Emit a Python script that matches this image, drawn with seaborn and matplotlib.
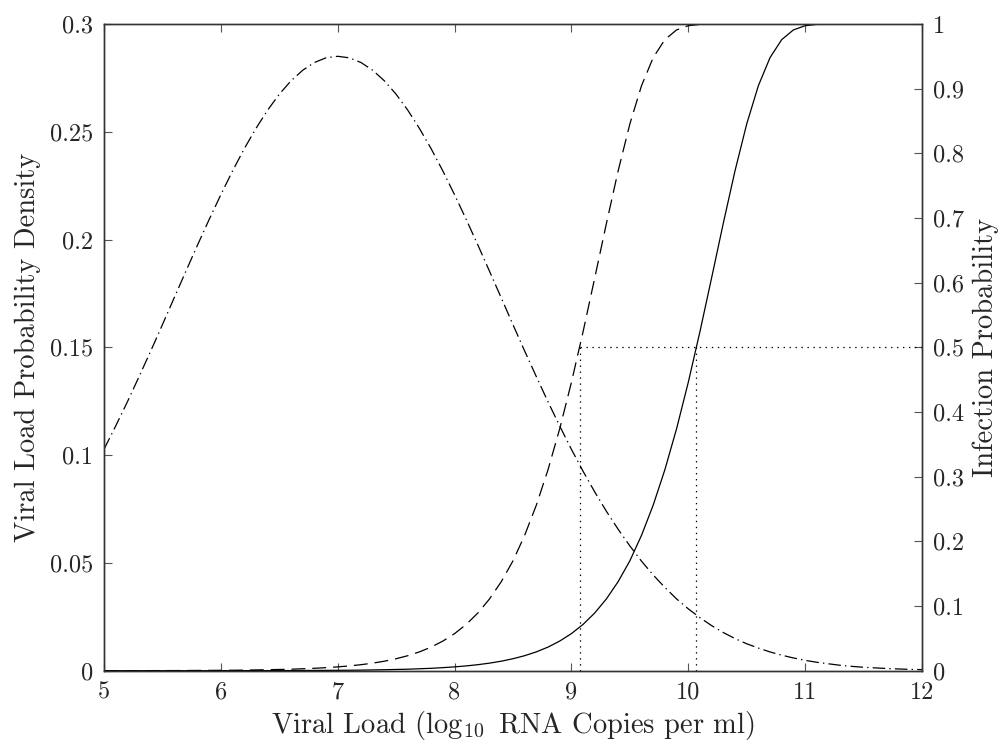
import numpy as np
import matplotlib
matplotlib.use("Agg")
import matplotlib.pyplot as plt
import seaborn as sns

# viral load grid (log10 copies per ml), read every 0.1
x_load = np.round(np.linspace(5, 12, 71), 1)

# viral load probability density (left axis), dash-dot curve
density = [0.1027, 0.1135, 0.1247, 0.1364, 0.1483, 0.1605, 0.1729, 0.1852, 0.1974, 0.2093,
           0.2208, 0.2318, 0.2421, 0.2515, 0.2600, 0.2674, 0.2736, 0.2785, 0.2821, 0.2843,
           0.2850, 0.2843, 0.2821, 0.2785, 0.2736, 0.2674, 0.2600, 0.2515, 0.2421, 0.2318,
           0.2208, 0.2093, 0.1974, 0.1852, 0.1729, 0.1605, 0.1483, 0.1364, 0.1247, 0.1135,
           0.1027, 0.0925, 0.0829, 0.0739, 0.0656, 0.0579, 0.0508, 0.0444, 0.0386, 0.0333,
           0.0287, 0.0246, 0.0209, 0.0177, 0.0149, 0.0125, 0.0105, 0.0087, 0.0072, 0.0059,
           0.0048, 0.0039, 0.0032, 0.0025, 0.0020, 0.0016, 0.0013, 0.0010, 0.0008, 0.0006,
           0.0005]

# infection probability (right axis), dashed curve
infect_dashed = [0.0001, 0.0001, 0.0001, 0.0001, 0.0001, 0.0002, 0.0002, 0.0003, 0.0004, 0.0005,
                 0.0006, 0.0007, 0.0009, 0.0012, 0.0015, 0.0019, 0.0023, 0.0030, 0.0037, 0.0047,
                 0.0059, 0.0074, 0.0093, 0.0117, 0.0147, 0.0185, 0.0232, 0.0291, 0.0365, 0.0458,
                 0.0573, 0.0716, 0.0893, 0.1111, 0.1377, 0.1698, 0.2093, 0.2560, 0.3108, 0.3741,
                 0.4457, 0.5242, 0.6075, 0.6919, 0.7728, 0.8452, 0.9045, 0.9480, 0.9758, 0.9908,
                 0.9973, 0.9994, 0.9999, 1.0, 1.0, 1.0, 1.0, 1.0, 1.0, 1.0,
                 1.0, 1.0, 1.0, 1.0, 1.0, 1.0, 1.0, 1.0, 1.0, 1.0,
                 1.0]

# infection probability (right axis), solid curve
infect_solid = [0.0, 0.0, 0.0, 0.0, 0.0, 0.0, 0.0, 0.0, 0.0, 0.0,
                0.0001, 0.0001, 0.0001, 0.0001, 0.0001, 0.0002, 0.0002, 0.0003, 0.0004, 0.0005,
                0.0006, 0.0007, 0.0009, 0.0012, 0.0015, 0.0019, 0.0023, 0.0030, 0.0037, 0.0047,
                0.0059, 0.0074, 0.0093, 0.0117, 0.0147, 0.0185, 0.0232, 0.0291, 0.0365, 0.0458,
                0.0573, 0.0716, 0.0893, 0.1111, 0.1377, 0.1698, 0.2093, 0.2560, 0.3108, 0.3741,
                0.4457, 0.5242, 0.6075, 0.6919, 0.7728, 0.8452, 0.9045, 0.9480, 0.9758, 0.9908,
                0.9973, 0.9994, 0.9999, 1.0, 1.0, 1.0, 1.0, 1.0, 1.0, 1.0,
                1.0]

# 50% infection thresholds
half_prob = 0.5
half_x = [9.07, 10.07]

x_ticks = [5, 6, 7, 8, 9, 10, 11, 12]
left_ticks = [0, 0.05, 0.1, 0.15, 0.2, 0.25, 0.3]
left_labels = ["0", "0.05", "0.1", "0.15", "0.2", "0.25", "0.3"]
right_ticks = [0, 0.1, 0.2, 0.3, 0.4, 0.5, 0.6, 0.7, 0.8, 0.9, 1]
right_labels = ["0", "0.1", "0.2", "0.3", "0.4", "0.5", "0.6", "0.7", "0.8", "0.9", "1"]

sns.set_style("ticks")
plt.rcParams["font.family"] = "serif"
plt.rcParams["font.serif"] = ["cmr10", "DejaVu Serif"]
plt.rcParams["mathtext.fontset"] = "cm"
plt.rcParams["axes.unicode_minus"] = False
plt.rcParams["lines.scale_dashes"] = False

fig = plt.figure(figsize=(9.98, 7.42), dpi=100)
ax = fig.add_axes([0.1042, 0.0961, 0.8196, 0.8716])
ax2 = ax.twinx()

lw = 0.9
sns.lineplot(x=x_load, y=density, ax=ax, color="black", linewidth=lw,
             linestyle=(0, (9, 3, 1, 3)))
sns.lineplot(x=x_load, y=infect_dashed, ax=ax2, color="black", linewidth=lw,
             linestyle=(0, (10, 5)))
sns.lineplot(x=x_load, y=infect_solid, ax=ax2, color="black", linewidth=lw)
ax2.hlines(half_prob, half_x[0], 12, colors="black", linewidth=lw, linestyles=(0, (1, 3.3)))
ax2.vlines(half_x, 0, half_prob, colors="black", linewidth=lw, linestyles=(0, (1, 3.3)))

ax.set_xlim(5, 12)
ax.set_ylim(0, 0.3)
ax2.set_ylim(0, 1)
ax.set_xticks(x_ticks)
ax.set_xticklabels([str(t) for t in x_ticks])
ax.set_yticks(left_ticks)
ax.set_yticklabels(left_labels)
ax2.set_yticks(right_ticks)
ax2.set_yticklabels(right_labels)

for a in (ax, ax2):
    for s in a.spines.values():
        s.set_linewidth(1.0)
        s.set_color("#333333")
ax.tick_params(axis="both", direction="in", length=6, width=0.8, color="#555555",
               labelsize=17.5, pad=8, top=True, right=False)
ax2.tick_params(axis="y", direction="in", length=6, width=0.8, color="#555555",
                labelsize=17.5, pad=8)

ax.set_xlabel(r"Viral Load ($\log_{10}$ RNA Copies per ml)", fontsize=20.5, labelpad=4)
ax.set_ylabel("Viral Load Probability Density", fontsize=20.5, labelpad=6)
ax2.set_ylabel("Infection Probability", fontsize=20.5, labelpad=6)

fig.savefig("out.png", dpi=100)
